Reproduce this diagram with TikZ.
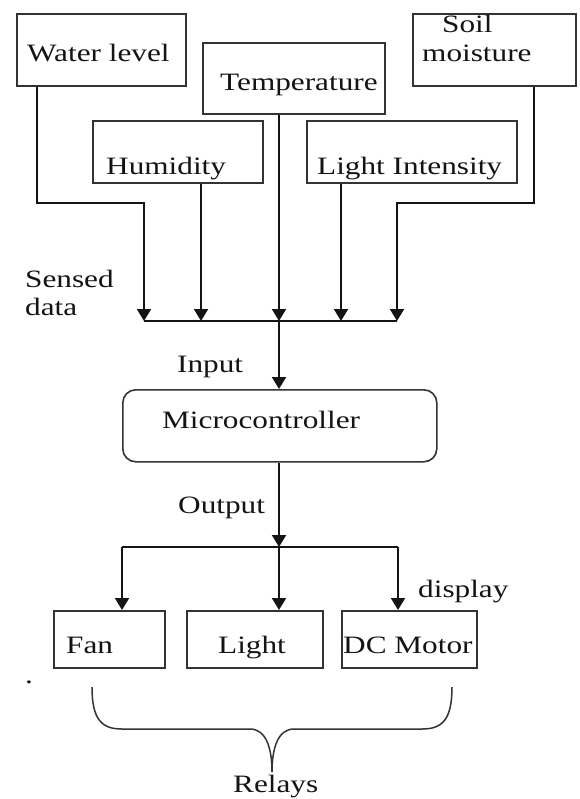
\documentclass[tikz,border=0pt]{standalone}
\usepackage{fontspec}
\setmainfont{Liberation Serif}[FakeStretch=1.25]
\usetikzlibrary{arrows.meta}
\begin{document}
\begin{tikzpicture}[x=1pt,y=-1pt,
  box/.style={draw=black!80, line width=1.6pt, anchor=north west, inner sep=0pt},
  lbl/.style={anchor=base west, inner sep=0pt, font=\fontsize{25}{28}\selectfont, text=black!92},
  conn/.style={line width=2pt, draw=black!92},
  arr/.style={conn, -{Triangle[length=12pt,width=14pt]}}]
\useasboundingbox[fill=white] (0,0) rectangle (579,799);

% sensor boxes
\node[box, minimum width=169pt, minimum height=72pt] (water) at (16,13) {};
\node[box, minimum width=182pt, minimum height=71pt] (temp)  at (202,42) {};
\node[box, minimum width=163pt, minimum height=72pt] (soil)  at (412,13) {};
\node[box, minimum width=170pt, minimum height=62pt] (hum)   at (92,120) {};
\node[box, minimum width=210pt, minimum height=62pt] (lint)  at (306,120) {};

% microcontroller
\node[box, rounded corners=13pt, minimum width=314pt, minimum height=72pt] (mcu) at (122,389) {};

% actuator boxes
\node[box, minimum width=111pt, minimum height=57pt] (fan)   at (53,610) {};
\node[box, minimum width=136pt, minimum height=57pt] (lamp)  at (186,610) {};
\node[box, minimum width=135pt, minimum height=57pt] (motor) at (341,610) {};

% texts
\node[lbl] (twater) at (27,62)  {Water level};
\node[lbl] (ttemp)  at (220,91) {Temperature};
\node[lbl] (tsoil1) at (442,33) {Soil};
\node[lbl] (tsoil2) at (422,62) {moisture};
\node[lbl] (thum)   at (106,175) {Humidity};
\node[lbl] (tlint)  at (317,175) {Light Intensity};
\node[lbl] (tsens1) at (25,287) {Sensed};
\node[lbl] (tsens2) at (25,315) {data};
\node[lbl] (tin)    at (177,372) {Input};
\node[lbl] (tmcu)   at (162,428) {Microcontroller};
\node[lbl] (tout)   at (178,513) {Output};
\node[lbl] (tdisp)  at (418,597) {display};
\node[lbl] (tfan)   at (66,653)  {Fan};
\node[lbl] (tlamp)  at (218,653) {Light};
\node[lbl] (tmotor) at (343,653) {DC Motor};
\node[lbl] (trel)   at (233,792) {Relays};
\node[lbl] (tdot)   at (25,683) {.};

% junction coordinates
\coordinate (inW) at (144,321);
\coordinate (inH) at (201,321);
\coordinate (inT) at (279,321);
\coordinate (inL) at (341,321);
\coordinate (inS) at (397,321);
\coordinate (outJ) at (279,547);
\coordinate (outL) at (122,547);
\coordinate (outR) at (398,547);

% sensed data connectors
\draw[arr] ([xshift=21pt]water.south west) -- (37,203) -- (144,203) -- (inW);
\draw[arr] ([xshift=109pt]hum.south west) -- (inH);
\draw[arr] ([xshift=77pt]temp.south west) -- (inT);
\draw[arr] ([xshift=35pt]lint.south west) -- (inL);
\draw[arr] ([xshift=122pt]soil.south west) -- (534,203) -- (397,203) -- (inS);
\draw[conn] (inW) -- (inS);
\draw[arr] (inT) -- (inT |- mcu.north);

% output connectors
\draw[arr] (outJ |- mcu.south) -- (outJ);
\draw[conn] (outL) -- (outR);
\draw[arr] (outL) -- (outL |- fan.north);
\draw[arr] (outJ) -- (outJ |- lamp.north);
\draw[arr] (outR) -- (outR |- motor.north);

% brace
\draw[line width=1.5pt, black!80]
  (92,687) .. controls (92,720) and (102,729) .. (122,729) -- (250,729)
  .. controls (266,729) and (272,748) .. (272,772)
  .. controls (272,748) and (278,729) .. (294,729) -- (422,729)
  .. controls (442,729) and (452,720) .. (452,687);
\end{tikzpicture}
\end{document}
